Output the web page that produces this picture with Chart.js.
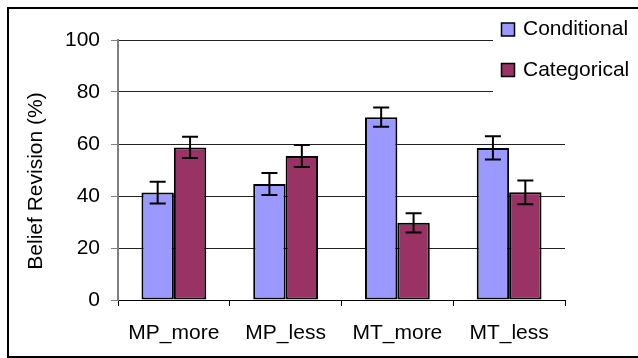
<!DOCTYPE html>
<html>
<head>
<meta charset="utf-8">
<script src="https://cdn.jsdelivr.net/npm/chart.js@4.4.0/dist/chart.umd.min.js"></script>
<style>
  html, body { margin: 0; padding: 0; background: #fff; }
  #wrap { width: 638px; height: 358px; }
</style>
</head>
<body>
<div id="wrap"><canvas id="myChart" width="638" height="358"></canvas></div>
<script>
// values
const categories = ['MP_more', 'MP_less', 'MT_more', 'MT_less'];
const conditional = [41.3, 44.6, 70.3, 58.5];
const categorical = [58.7, 55.4, 29.7, 41.4];
const conditionalErr = [4.2, 4.2, 3.7, 4.5];
const categoricalErr = [4.1, 4.2, 3.7, 4.6];
const yTicks = [0, 20, 40, 60, 80, 100];
const yTitle = 'Belief Revision (%)';

const family = '"Liberation Sans", Arial, sans-serif';

// white page with the excel style frame (right edge runs off the picture)
const framePlugin = {
    id: 'frame',
    beforeDraw(chart) {
        const ctx = chart.ctx;
        ctx.save();
        ctx.fillStyle = '#fff';
        ctx.fillRect(0, 0, chart.width, chart.height);
        ctx.strokeStyle = '#000';
        ctx.lineWidth = 2;
        ctx.strokeRect(8, 8, chart.width + 10, chart.height - 9);
        ctx.restore();
    }
};

// error bars for each bar
const errorBarPlugin = {
    id: 'errorBars',
    afterDatasetsDraw(chart) {
        const ctx = chart.ctx;
        const y = chart.scales.y;
        ctx.save();
        ctx.strokeStyle = '#000';
        ctx.lineWidth = 2;
        chart.data.datasets.forEach((ds, d) => {
            const meta = chart.getDatasetMeta(d);
            meta.data.forEach((bar, i) => {
                const v = ds.data[i];
                const e = ds.errors[i];
                const top = y.getPixelForValue(v + e);
                const bot = y.getPixelForValue(v - e);
                const x = bar.x;
                ctx.beginPath();
                ctx.moveTo(x, top); ctx.lineTo(x, bot);
                ctx.moveTo(x - 8, top); ctx.lineTo(x + 8, top);
                ctx.moveTo(x - 8, bot); ctx.lineTo(x + 8, bot);
                ctx.stroke();
            });
        });
        ctx.restore();
    }
};

// legend over the top right of the plot on white, plus the rotated y title
const legendPlugin = {
    id: 'boxLegend',
    afterDraw(chart) {
        const ctx = chart.ctx;
        ctx.save();
        ctx.fillStyle = '#fff';
        ctx.fillRect(493, 9, chart.width - 493, 92);
        ctx.font = '21px ' + family;
        ctx.textBaseline = 'middle';
        chart.data.datasets.forEach((ds, i) => {
            const cy = 29.5 + i * 40.5;
            ctx.fillStyle = ds.backgroundColor;
            ctx.fillRect(501.5, cy - 6.5, 13, 13);
            ctx.strokeStyle = '#000';
            ctx.lineWidth = 1.5;
            ctx.strokeRect(501.5, cy - 6.5, 13, 13);
            ctx.fillStyle = '#000';
            ctx.fillText(ds.label, 523, cy);
        });
        // y axis title
        ctx.translate(36, 181);
        ctx.rotate(-Math.PI / 2);
        ctx.textAlign = 'center';
        ctx.fillText(yTitle, 0, 0);
        ctx.restore();
    }
};

const data = {
    labels: categories,
    datasets: [
        {
            label: 'Conditional',
            data: conditional,
            errors: conditionalErr,
            backgroundColor: '#9999FF',
            borderColor: '#000',
            borderWidth: 2,
            borderSkipped: false
        },
        {
            label: 'Categorical',
            data: categorical,
            errors: categoricalErr,
            backgroundColor: '#993366',
            borderColor: '#000',
            borderWidth: 2,
            borderSkipped: false
        }
    ]
};

const config = {
    type: 'bar',
    data: data,
    options: {
        responsive: false,
        animation: false,
        layout: { padding: { left: 0, top: 40, right: 73, bottom: 0 } },
        datasets: { bar: { categoryPercentage: 0.58, barPercentage: 1.0 } },
        plugins: {
            legend: { display: false },
            tooltip: { enabled: false }
        },
        scales: {
            x: {
                offset: true,
                grid: {
                    offset: true,
                    drawOnChartArea: false,
                    color: '#000',
                    tickLength: 6,
                    tickColor: '#000'
                },
                border: { color: '#000', width: 1 },
                ticks: { color: '#000', font: { family: family, size: 21 }, padding: 15, maxRotation: 0 },
                afterFit(scale) { scale.height = 58; }
            },
            y: {
                min: 0,
                max: 100,
                afterBuildTicks(scale) { scale.ticks = yTicks.map(v => ({ value: v })); },
                grid: {
                    color: '#222',
                    tickLength: 7,
                    tickColor: '#808080'
                },
                border: { color: '#808080', width: 2 },
                ticks: { color: '#000', font: { family: family, size: 21 }, padding: 11 },
                afterFit(scale) { scale.width = 118; }
            }
        }
    },
    plugins: [framePlugin, errorBarPlugin, legendPlugin]
};

const myChart = new Chart(document.getElementById('myChart'), config);
</script>
</body>
</html>
